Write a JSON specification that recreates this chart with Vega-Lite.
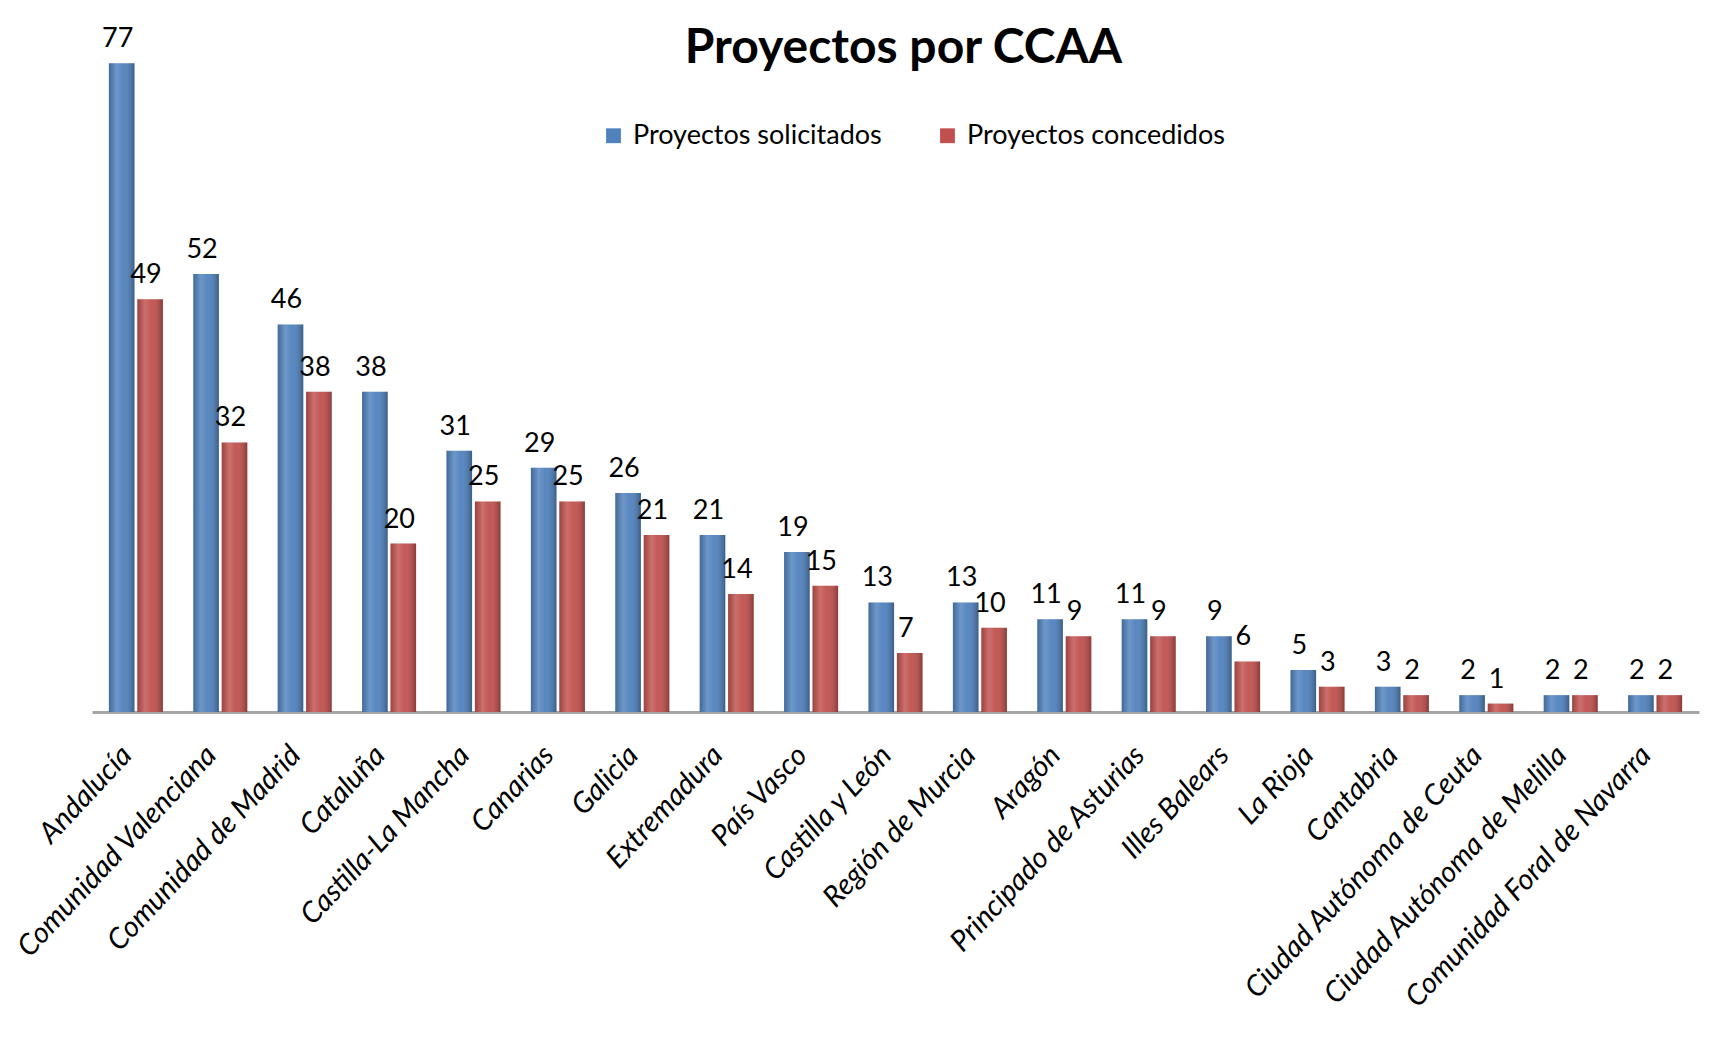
{
  "$schema": "https://vega.github.io/schema/vega-lite/v6.json",
  "autosize": {"type": "none"},
  "width": 1607,
  "height": 674,
  "padding": {"left": 92, "top": 38, "right": 11, "bottom": 325},
  "background": "white",
  "config": {"view": {"stroke": null}, "font": "Lato"},
  "title": {
    "text": "Proyectos por CCAA",
    "font": "Lato",
    "fontSize": 48,
    "fontWeight": "bold",
    "color": "#000000",
    "anchor": "middle",
    "baseline": "alphabetic",
    "offset": 0,
    "dy": 86,
    "dx": 8
  },
  "data": {
    "values": [
      {"ccaa": "Andalucía", "serie": "Proyectos solicitados", "valor": 77},
      {"ccaa": "Andalucía", "serie": "Proyectos concedidos", "valor": 49},
      {"ccaa": "Comunidad Valenciana", "serie": "Proyectos solicitados", "valor": 52},
      {"ccaa": "Comunidad Valenciana", "serie": "Proyectos concedidos", "valor": 32},
      {"ccaa": "Comunidad de Madrid", "serie": "Proyectos solicitados", "valor": 46},
      {"ccaa": "Comunidad de Madrid", "serie": "Proyectos concedidos", "valor": 38},
      {"ccaa": "Cataluña", "serie": "Proyectos solicitados", "valor": 38},
      {"ccaa": "Cataluña", "serie": "Proyectos concedidos", "valor": 20},
      {"ccaa": "Castilla-La Mancha", "serie": "Proyectos solicitados", "valor": 31},
      {"ccaa": "Castilla-La Mancha", "serie": "Proyectos concedidos", "valor": 25},
      {"ccaa": "Canarias", "serie": "Proyectos solicitados", "valor": 29},
      {"ccaa": "Canarias", "serie": "Proyectos concedidos", "valor": 25},
      {"ccaa": "Galicia", "serie": "Proyectos solicitados", "valor": 26},
      {"ccaa": "Galicia", "serie": "Proyectos concedidos", "valor": 21},
      {"ccaa": "Extremadura", "serie": "Proyectos solicitados", "valor": 21},
      {"ccaa": "Extremadura", "serie": "Proyectos concedidos", "valor": 14},
      {"ccaa": "País Vasco", "serie": "Proyectos solicitados", "valor": 19},
      {"ccaa": "País Vasco", "serie": "Proyectos concedidos", "valor": 15},
      {"ccaa": "Castilla y León", "serie": "Proyectos solicitados", "valor": 13},
      {"ccaa": "Castilla y León", "serie": "Proyectos concedidos", "valor": 7},
      {"ccaa": "Región de Murcia", "serie": "Proyectos solicitados", "valor": 13},
      {"ccaa": "Región de Murcia", "serie": "Proyectos concedidos", "valor": 10},
      {"ccaa": "Aragón", "serie": "Proyectos solicitados", "valor": 11},
      {"ccaa": "Aragón", "serie": "Proyectos concedidos", "valor": 9},
      {"ccaa": "Principado de Asturias", "serie": "Proyectos solicitados", "valor": 11},
      {"ccaa": "Principado de Asturias", "serie": "Proyectos concedidos", "valor": 9},
      {"ccaa": "Illes Balears", "serie": "Proyectos solicitados", "valor": 9},
      {"ccaa": "Illes Balears", "serie": "Proyectos concedidos", "valor": 6},
      {"ccaa": "La Rioja", "serie": "Proyectos solicitados", "valor": 5},
      {"ccaa": "La Rioja", "serie": "Proyectos concedidos", "valor": 3},
      {"ccaa": "Cantabria", "serie": "Proyectos solicitados", "valor": 3},
      {"ccaa": "Cantabria", "serie": "Proyectos concedidos", "valor": 2},
      {"ccaa": "Ciudad Autónoma de Ceuta", "serie": "Proyectos solicitados", "valor": 2},
      {"ccaa": "Ciudad Autónoma de Ceuta", "serie": "Proyectos concedidos", "valor": 1},
      {"ccaa": "Ciudad Autónoma de Melilla", "serie": "Proyectos solicitados", "valor": 2},
      {"ccaa": "Ciudad Autónoma de Melilla", "serie": "Proyectos concedidos", "valor": 2},
      {"ccaa": "Comunidad Foral de Navarra", "serie": "Proyectos solicitados", "valor": 2},
      {"ccaa": "Comunidad Foral de Navarra", "serie": "Proyectos concedidos", "valor": 2}
    ]
  },
  "encoding": {
    "x": {
      "field": "ccaa",
      "type": "nominal",
      "sort": null,
      "scale": {"paddingInner": 0.36, "paddingOuter": 0.2},
      "axis": {
        "title": null,
        "labelAngle": -47,
        "labelFont": "Lato",
        "labelFontSize": 29,
        "labelFontStyle": "italic",
        "labelColor": "#000000",
        "labelPadding": 38,
        "labelOffset": -9,
        "ticks": false,
        "domain": true,
        "domainColor": "#A6A6A6",
        "domainWidth": 3,
        "labelLimit": 600
      }
    },
    "xOffset": {
      "field": "serie",
      "type": "nominal",
      "sort": ["Proyectos solicitados", "Proyectos concedidos"],
      "scale": {"paddingInner": 0.1}
    },
    "y": {
      "field": "valor",
      "type": "quantitative",
      "scale": {"domain": [0, 80], "nice": false},
      "axis": null
    }
  },
  "layer": [
    {
      "mark": {"type": "bar", "cornerRadiusTop": 7},
      "encoding": {
        "color": {
          "field": "serie",
          "type": "nominal",
          "sort": ["Proyectos solicitados", "Proyectos concedidos"],
          "scale": {
            "domain": ["Proyectos solicitados", "Proyectos concedidos"],
            "range": ["#4F81BD", "#C0504D"]
          },
          "legend": {
            "title": null,
            "orient": "none",
            "legendX": 508,
            "legendY": 84,
            "direction": "horizontal",
            "symbolType": "square",
            "symbolSize": 220,
            "symbolStrokeWidth": 0,
            "labelFont": "Lato",
            "labelFontSize": 27,
            "labelColor": "#000000",
            "labelLimit": 500,
            "columnPadding": 52,
            "labelOffset": 6
          }
        }
      }
    },
    {
      "mark": {
        "type": "bar",
        "cornerRadiusTop": 7,
        "fill": {
          "gradient": "linear",
          "x1": 0, "x2": 1, "y1": 0, "y2": 0,
          "stops": [
            {"offset": 0, "color": "rgba(0,0,0,0.18)"},
            {"offset": 0.3, "color": "rgba(255,255,255,0.18)"},
            {"offset": 0.55, "color": "rgba(255,255,255,0.05)"},
            {"offset": 1, "color": "rgba(0,0,0,0.28)"}
          ]
        }
      }
    },
    {
      "mark": {
        "type": "text",
        "baseline": "bottom",
        "align": "center",
        "dy": -10,
        "dx": -4,
        "font": "Lato",
        "fontSize": 27,
        "color": "#000000"
      },
      "encoding": {"text": {"field": "valor", "type": "quantitative"}}
    }
  ]
}
